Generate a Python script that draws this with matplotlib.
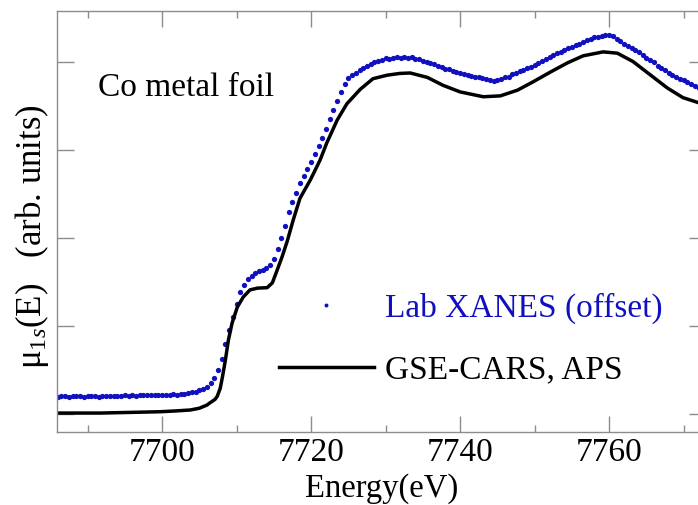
import numpy as np
import matplotlib
matplotlib.use('Agg')
import matplotlib.pyplot as plt
from matplotlib.ticker import MultipleLocator

plt.rcParams['font.family'] = ['Liberation Serif', 'DejaVu Serif']
plt.rcParams['mathtext.fontset'] = 'custom'
plt.rcParams['mathtext.rm'] = 'Liberation Serif'
plt.rcParams['mathtext.it'] = 'Liberation Serif:italic'

# GSE-CARS, APS reference spectrum
e_aps = [7685.9, 7691.7, 7699.7, 7702.0, 7703.8, 7705.0, 7706.0, 7706.4, 7707.1, 7707.4,
         7707.8, 7708.1, 7708.5, 7708.9, 7709.4, 7710.1, 7710.9, 7711.8, 7712.8, 7714.1,
         7714.8, 7715.4, 7716.1, 7716.8, 7717.6, 7718.5, 7719.9, 7721.2, 7722.1, 7723.5,
         7724.8, 7726.6, 7728.3, 7730.2, 7731.9, 7733.3, 7735.6, 7737.7, 7740.0, 7743.1,
         7745.4, 7747.7, 7749.8, 7752.1, 7754.4, 7756.5, 7759.2, 7761.1, 7763.2, 7765.5,
         7767.8, 7769.9, 7773.0]
mu_aps = [0.002, 0.002, 0.005, 0.007, 0.009, 0.013, 0.020, 0.025, 0.033, 0.040,
          0.058, 0.084, 0.123, 0.168, 0.207, 0.243, 0.266, 0.282, 0.286, 0.287,
          0.298, 0.325, 0.357, 0.393, 0.441, 0.490, 0.532, 0.577, 0.616, 0.668,
          0.705, 0.738, 0.762, 0.770, 0.774, 0.775, 0.765, 0.747, 0.732, 0.721,
          0.723, 0.736, 0.755, 0.777, 0.798, 0.814, 0.823, 0.820, 0.801, 0.771,
          0.741, 0.719, 0.702]

# lab XANES, offset, 0.5 eV grid
e_lab = np.arange(7686.0, 7773.01, 0.5)
mu_lab = [0.039, 0.040, 0.041, 0.039, 0.040, 0.041, 0.040, 0.039, 0.040, 0.041,
          0.040, 0.039, 0.040, 0.041, 0.040, 0.041, 0.040, 0.041, 0.042, 0.041,
          0.042, 0.041, 0.042, 0.043, 0.042, 0.043, 0.042, 0.043, 0.044, 0.043,
          0.044, 0.045, 0.044, 0.045, 0.046, 0.047, 0.049, 0.051, 0.054, 0.057,
          0.062, 0.070, 0.082, 0.100, 0.124, 0.160, 0.190, 0.221, 0.250, 0.277,
          0.294, 0.307, 0.314, 0.320, 0.324, 0.327, 0.331, 0.338, 0.353, 0.375,
          0.400, 0.428, 0.458, 0.481, 0.503, 0.525, 0.541, 0.557, 0.573, 0.591,
          0.609, 0.628, 0.648, 0.670, 0.691, 0.712, 0.732, 0.750, 0.763, 0.770,
          0.776, 0.781, 0.786, 0.791, 0.795, 0.799, 0.802, 0.805, 0.808, 0.806,
          0.809, 0.811, 0.808, 0.812, 0.810, 0.811, 0.807, 0.806, 0.803, 0.801,
          0.797, 0.795, 0.791, 0.788, 0.785, 0.783, 0.779, 0.777, 0.775, 0.773,
          0.770, 0.769, 0.767, 0.765, 0.764, 0.761, 0.758, 0.757, 0.760, 0.762,
          0.765, 0.767, 0.772, 0.775, 0.779, 0.782, 0.786, 0.789, 0.794, 0.798,
          0.803, 0.806, 0.811, 0.815, 0.820, 0.823, 0.827, 0.831, 0.834, 0.838,
          0.842, 0.845, 0.849, 0.852, 0.856, 0.857, 0.859, 0.862, 0.861, 0.859,
          0.853, 0.847, 0.842, 0.837, 0.832, 0.827, 0.822, 0.816, 0.810, 0.805,
          0.799, 0.792, 0.787, 0.782, 0.776, 0.771, 0.766, 0.762, 0.758, 0.754,
          0.750, 0.746, 0.742, 0.739, 0.736]

blue = '#1010c0'
grey = '#8c8c8c'

fig = plt.figure(figsize=(6.98, 5.05), dpi=100)
ax = fig.add_axes([0.0817, 0.1446, 0.9298, 0.8337])

ax.plot(e_lab, mu_lab, 'o', color=blue, markersize=3.8, markeredgewidth=0,
        label='Lab XANES (offset)')
ax.plot(e_aps, mu_aps, color='black', linewidth=2.5, label='GSE-CARS, APS')

ax.set_xlim(7685.9, 7773.0)
ax.set_ylim(-0.041, 0.916)
ax.xaxis.set_major_locator(MultipleLocator(20))
ax.xaxis.set_minor_locator(MultipleLocator(10))
ax.set_yticks([0, 0.2, 0.4, 0.6, 0.8])
ax.set_yticklabels([])

for s in ax.spines.values():
    s.set_color(grey)
    s.set_linewidth(1.0)
ax.tick_params(axis='both', which='both', direction='in', color=grey,
               top=True, right=True, width=1.0)
ax.tick_params(axis='x', which='major', length=11.5, labelsize=24, pad=4)
ax.tick_params(axis='x', which='minor', length=5)
ax.tick_params(axis='y', which='major', length=12)

ax.set_xlabel('Energy(eV)', fontsize=23.5)
ax.xaxis.set_label_coords(0.5, -0.099)
ax.set_ylabel('μ$_{1s}$(E)   (arb. units)', fontsize=25)
ax.yaxis.set_label_coords(-0.010, 0.463)

ax.text(0.063, 0.817, 'Co metal foil', transform=ax.transAxes, fontsize=24,
        va='center', ha='left')

ax.legend(loc='upper left', bbox_to_anchor=(0.316, 0.37), frameon=False,
          borderpad=0, handlelength=2.85, handletextpad=0.35, labelspacing=0.93,
          fontsize=24, labelcolor='linecolor', markerscale=0.75, numpoints=1)

fig.savefig('out.png', dpi=100)
